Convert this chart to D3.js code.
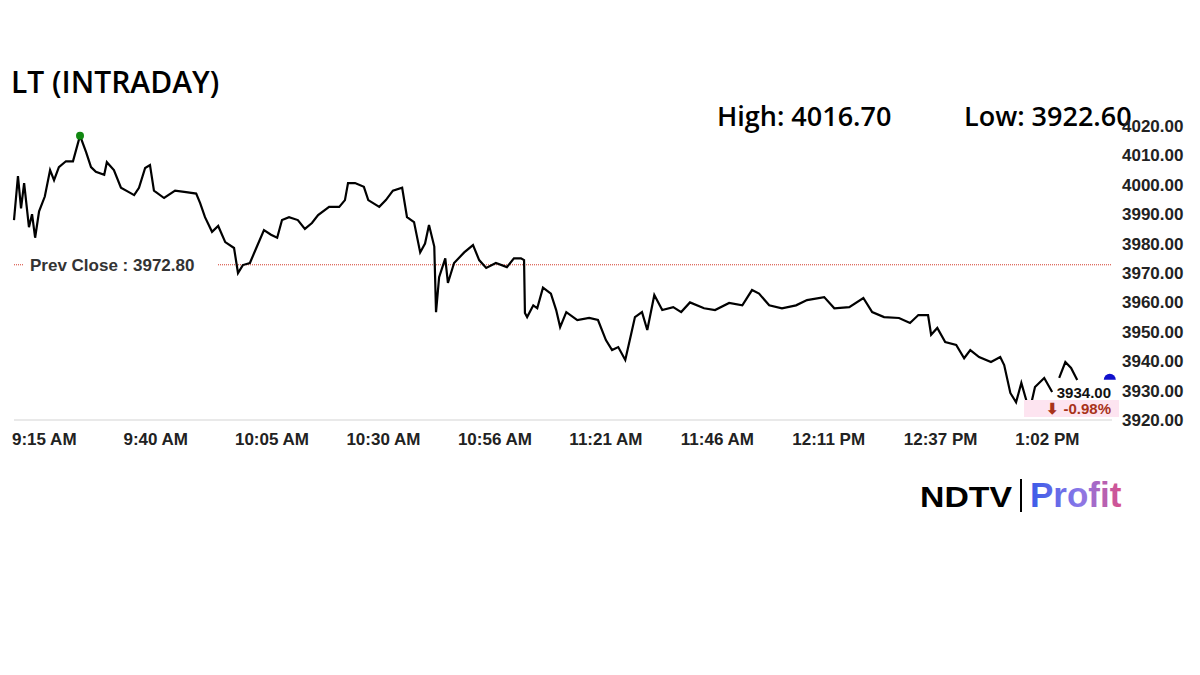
<!DOCTYPE html>
<meta charset="utf-8">
<script src="https://d3js.org/d3.v7.min.js"></script>
<style>body{margin:0;background:#fff}</style>
<div id="chart"></div>
<script>
// minutes after 9:15 AM, price (null = gap in the feed)
var minutes = [0,0.9,1.6,2.3,3.4,4.1,4.8,5.7,7.0,8.2,9.1,10.2,11.8,13.4,15.0,16.4,17.5,18.6,20.5,21.1,22.7,24.3,26.1,27.3,28.4,29.8,30.9,31.8,34.1,36.6,39.1,41.4,42.3,43.4,45.0,46.4,48.0,50.0,50.9,52.0,53.6,55.2,56.8,58.4,59.8,60.9,62.5,64.5,66.1,67.7,69.1,71.6,73.9,75.2,75.9,77.5,79.5,80.5,83.0,84.5,86.1,88.2,89.3,90.9,92.3,93.4,94.3,95.5,95.9,96.6,98.0,98.6,100.0,102.3,104.3,105.7,107.3,109.5,112.0,113.6,115.2,115.9,116.1,116.6,118.0,118.9,120.2,122.0,123.2,124.1,125.5,128.0,130.7,132.7,134.5,135.9,137.3,138.9,140.2,141.1,142.7,143.9,145.5,147.3,149.8,151.6,153.6,156.8,159.3,162.5,165.5,167.7,169.3,171.6,174.5,177.7,180.2,184.1,186.4,189.8,193.0,195.0,197.7,201.1,203.6,205.5,207.7,208.4,209.8,211.6,214.1,215.9,217.3,219.3,222.0,224.1,225.0,226.4,227.7,228.9,230.2,230.7,232.0,234.1,235.9,236.7,237.5,238.9,240.2,241.6];
var prices = [3988,4003,3992,4000.6,3985.6,3990,3982,3991,3996,4005,4001.6,4006,4008,4008,4016.7,4011,4006,4004.4,4003.4,4007.7,4005,3999,3997.5,3996.5,3999,4005.7,4006.7,3998,3995.5,3998,3997.5,3997,3993.8,3989,3984,3986,3980.5,3978.5,3970,3972.7,3973.4,3979,3984.6,3983,3982,3988,3989,3988,3985,3987,3989.7,3992.5,3992.5,3994.8,4000.6,4000.6,3999.3,3994.8,3992.5,3994.8,3998,3999,3989,3987.3,3977,3980,3986.3,3979,3956.7,3968.6,3975,3966.6,3973.4,3977,3979.5,3974.4,3971.7,3973.4,3972,3975,3975,3974.4,3956.4,3955,3959,3958,3965,3963,3957.4,3951.6,3956.7,3954,3954.7,3954,3947.2,3943.8,3944.8,3940.4,3949,3955,3956.7,3950.6,3962.5,3957.4,3958.4,3956.7,3960,3958,3957.4,3959.8,3959,3964.2,3963,3959,3958,3959,3960.8,3961.8,3958,3958.4,3961.5,3956.7,3955,3954.7,3953,3955.7,3955.7,3949,3951.3,3946.5,3945.5,3941,3943.8,3941.4,3939.7,3941.4,3938.7,3929.2,3926,3932.6,3925.8,3922.6,3931.2,3934.3,3929.5,null,3934.3,3939.7,3937.7,3933.6];
var timeLabels = ["9:15 AM","9:40 AM","10:05 AM","10:30 AM","10:56 AM","11:21 AM","11:46 AM","12:11 PM","12:37 PM","1:02 PM"];
var priceTicks = [3920,3930,3940,3950,3960,3970,3980,3990,4000,4010,4020];
var prevClose = 3972.80, dayHigh = 4016.70, dayLow = 3922.60, lastPrice = 3934.00, changePct = -0.98;
var highMinute = 15.0, lowMinute = 230.7, lastMinute = 249;

var W = 1200, H = 675;
var svg = d3.select("#chart").append("svg").attr("width", W).attr("height", H)
  .style("font-family", "Arial, 'Liberation Sans', sans-serif");

var x = d3.scaleLinear().domain([0, 249.5]).range([14, 1112]);
var y = d3.scaleLinear().domain([3920, 4020]).range([420, 126]);

svg.append("text").attr("x", 11).attr("y", 93)
  .style("font-family", "'Open Sans', sans-serif").style("font-size", "30px").style("font-weight", "600")
  .text("LT (INTRADAY)");

svg.append("text").attr("x", 717).attr("y", 126)
  .style("font-family", "'Open Sans', sans-serif").style("font-size", "27px").style("font-weight", "600")
  .text("High: " + dayHigh.toFixed(2));
svg.append("text").attr("x", 964).attr("y", 126)
  .style("font-family", "'Open Sans', sans-serif").style("font-size", "27px").style("font-weight", "600")
  .text("Low: " + dayLow.toFixed(2));

// bottom axis line
svg.append("line").attr("x1", 14).attr("x2", 1112).attr("y1", y(3920)).attr("y2", y(3920))
  .attr("stroke", "#e2e2e2").attr("stroke-width", 1.5);

// prev close
svg.append("line").attr("x1", 14).attr("x2", 1112).attr("y1", y(prevClose)).attr("y2", y(prevClose))
  .attr("stroke", "#d23a2a").attr("stroke-width", 1).attr("stroke-dasharray", "1,1");
var pcText = "Prev Close : " + prevClose.toFixed(2);
svg.append("rect").attr("x", 24).attr("y", y(prevClose) - 10).attr("width", 194).attr("height", 20).attr("fill", "#fff");
svg.append("text").attr("x", 30).attr("y", y(prevClose) + 6)
  .style("font-size", "17px").style("font-weight", "bold").attr("fill", "#333").text(pcText);

// price line
var line = d3.line().defined(function(d) { return d[1] != null; })
  .x(function(d) { return x(d[0]); }).y(function(d) { return y(d[1]); });
svg.append("path").datum(minutes.map(function(m, i) { return [m, prices[i]]; }))
  .attr("d", line).attr("fill", "none").attr("stroke", "#000").attr("stroke-width", 2.2);

// markers
svg.append("circle").attr("cx", x(highMinute)).attr("cy", y(dayHigh)).attr("r", 4).attr("fill", "#118811");
svg.append("circle").attr("cx", x(lowMinute)).attr("cy", y(dayLow)).attr("r", 4.5).attr("fill", "#b5401a");
svg.append("clipPath").attr("id", "clip").append("rect").attr("x", 0).attr("y", 0).attr("width", W).attr("height", y(lastPrice) + 1);
svg.append("circle").attr("clip-path", "url(#clip)").attr("cx", x(lastMinute)).attr("cy", y(lastPrice) + 1).attr("r", 6).attr("fill", "#1010cc");

// last price label
svg.append("text").attr("x", 1111).attr("y", 398).attr("text-anchor", "end")
  .style("font-size", "15px").style("font-weight", "bold").attr("fill", "#111").text(lastPrice.toFixed(2));
svg.append("rect").attr("x", 1024).attr("y", 400).attr("width", 95).attr("height", 17).attr("fill", "#fde4f0");
svg.append("text").attr("x", 1111).attr("y", 414).attr("text-anchor", "end")
  .style("font-size", "15px").style("font-weight", "bold").attr("fill", "#a8321a").text("\u2B07 " + changePct.toFixed(2) + "%");

// y labels
svg.selectAll(".yl").data(priceTicks).enter().append("text")
  .attr("x", 1122).attr("y", function(d) { return y(d) + 6; })
  .style("font-size", "17px").style("font-weight", "bold").attr("fill", "#222")
  .text(function(d) { return d.toFixed(2); });

// x labels, every 25.33 min
svg.selectAll(".xl").data(timeLabels).enter().append("text")
  .attr("x", function(d, i) { return x(i * 25.33) - 2; }).attr("y", 445)
  .style("font-size", "17px").style("font-weight", "bold").attr("fill", "#222")
  .text(function(d) { return d; });

// logo
var defs = svg.append("defs");
var g = defs.append("linearGradient").attr("id", "pg");
g.append("stop").attr("offset", "0%").attr("stop-color", "#3a5be8");
g.append("stop").attr("offset", "55%").attr("stop-color", "#8a78e8");
g.append("stop").attr("offset", "100%").attr("stop-color", "#d8508a");
svg.append("text").attr("x", 920).attr("y", 507).style("font-size", "30px").style("font-weight", "900")
  .attr("textLength", 92).attr("lengthAdjust", "spacingAndGlyphs").attr("fill", "#000").text("NDTV");
svg.append("line").attr("x1", 1021).attr("x2", 1021).attr("y1", 479).attr("y2", 512).attr("stroke", "#000").attr("stroke-width", 2);
svg.append("text").attr("x", 1030).attr("y", 507).style("font-size", "35px").style("font-weight", "bold")
  .attr("fill", "url(#pg)").text("Profit");
</script>
